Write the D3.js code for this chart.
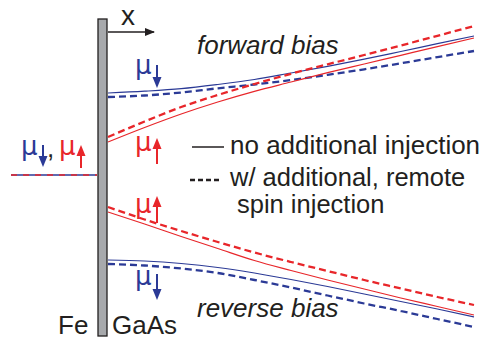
<!DOCTYPE html>
<html>
<head>
<meta charset="utf-8">
<script src="https://cdn.jsdelivr.net/npm/d3@7"></script>
<style>
  html, body { margin: 0; padding: 0; background: #fff; }
  svg { display: block; font-family: "Liberation Sans", Arial, Helvetica, sans-serif; }
</style>
</head>
<body>
<svg id="chart" width="489" height="339"></svg>
<script>
// position into GaAs (arb. units), 0 = Fe/GaAs interface
const xs = [0, 1, 2, 3, 4, 5, 6, 7, 8, 9, 10];
// electrochemical potentials (arb. units), 0 = Fe level
const fwdDownSolid  = [82, 83.8, 86.3, 90.5, 95.5, 102, 108.7, 115.8, 123.5, 131.3, 139];
const fwdDownDashed = [78, 79.5, 82.5, 86.7, 90.5, 95, 100.2, 105.7, 111.7, 117.9, 124];
const fwdUpDashed   = [38, 53.5, 68, 80, 91, 101.2, 110.7, 120, 129.5, 139.2, 149];
const fwdUpSolid    = [33, 47.5, 61, 73, 83.7, 93, 102.3, 111, 119.7, 128.4, 137];
const revUpDashed   = [-32, -44.5, -56, -67, -77.5, -87, -96, -105, -113.5, -122, -130];
const revUpSolid    = [-37, -49, -61.5, -73.5, -85.5, -95.5, -105, -114, -123, -131.5, -140];
const revDownSolid  = [-85, -86, -88.5, -92.5, -98, -104.5, -111.5, -119, -126.5, -134, -142];
const revDownDashed = [-89, -90.5, -93.5, -98, -105, -112.5, -120.5, -128.5, -136, -144, -152];
// Fe side: both spins at the same level
const feX = [-2.65, -0.3];
const feLevel = [0, 0];

const RED = "#e8262a", BLUE = "#2b3a96", INK = "#231f20";

const svg = d3.select("#chart");
const x = d3.scaleLinear().domain([0, 10]).range([108, 474]);
const y = d3.scaleLinear().domain([-150, 150]).range([325, 25]);

const line = d3.line()
  .x(d => x(d[0]))
  .y(d => y(d[1]))
  .curve(d3.curveMonotoneX);

function curve(vals, color, dashed) {
  svg.append("path")
    .attr("d", line(xs.map((v, i) => [v, vals[i]])))
    .attr("fill", "none")
    .attr("stroke", color)
    .attr("stroke-width", dashed ? 2.3 : 1.2)
    .attr("stroke-dasharray", dashed ? "7,4" : null);
}

// Fe / GaAs interface
svg.append("rect")
  .attr("x", 98).attr("y", 19)
  .attr("width", 9).attr("height", 317)
  .attr("fill", "#a7a9ac")
  .attr("stroke", INK)
  .attr("stroke-width", 1.3);

// x direction arrow
svg.append("defs").append("marker")
  .attr("id", "head")
  .attr("viewBox", "0 0 10 10")
  .attr("refX", 9).attr("refY", 5)
  .attr("markerWidth", 10).attr("markerHeight", 10)
  .attr("markerUnits", "userSpaceOnUse")
  .attr("orient", "auto")
  .append("path").attr("d", "M0,1 L10,5 L0,9 Z").attr("fill", INK);
svg.append("line")
  .attr("x1", x(0)).attr("y1", 32).attr("x2", 154).attr("y2", 32)
  .attr("stroke", INK).attr("stroke-width", 1.3)
  .attr("marker-end", "url(#head)");
svg.append("text").attr("x", 121).attr("y", 25)
  .attr("font-size", 28).attr("fill", INK).text("x");

// Fe level, alternating red/blue
const feLine = d3.line().x(d => x(d[0])).y(d => y(d[1]))(feX.map((v, i) => [v, feLevel[i]]));
svg.append("path").attr("d", feLine).attr("stroke", BLUE).attr("stroke-width", 1.5).attr("fill", "none");
svg.append("path").attr("d", feLine).attr("stroke", RED).attr("stroke-width", 1.5).attr("fill", "none")
  .attr("stroke-dasharray", "6,6");

// forward bias curves
curve(fwdDownSolid, BLUE, false);
curve(fwdDownDashed, BLUE, true);
curve(fwdUpSolid, RED, false);
curve(fwdUpDashed, RED, true);
// reverse bias curves
curve(revUpSolid, RED, false);
curve(revUpDashed, RED, true);
curve(revDownSolid, BLUE, false);
curve(revDownDashed, BLUE, true);

// spin arrows: dir = 1 for down, -1 for up
function spinArrow(cx, yTop, yBot, dir, color) {
  const g = svg.append("g").attr("fill", color).attr("stroke", color);
  const headLen = 11, hw = 4.5;
  if (dir > 0) {
    g.append("line").attr("x1", cx).attr("x2", cx).attr("y1", yTop).attr("y2", yBot - headLen + 1).attr("stroke-width", 2);
    g.append("path").attr("stroke", "none")
      .attr("d", `M${cx - hw},${yBot - headLen} L${cx + hw},${yBot - headLen} L${cx},${yBot} Z`);
  } else {
    g.append("line").attr("x1", cx).attr("x2", cx).attr("y1", yTop + headLen - 1).attr("y2", yBot).attr("stroke-width", 2);
    g.append("path").attr("stroke", "none")
      .attr("d", `M${cx - hw},${yTop + headLen} L${cx + hw},${yTop + headLen} L${cx},${yTop} Z`);
  }
}

function mu(px, py, color) {
  svg.append("text").attr("x", px).attr("y", py)
    .attr("font-family", "'DejaVu Sans', sans-serif")
    .attr("font-size", 26).attr("fill", color).text("μ");
}

mu(135, 74, BLUE);  spinArrow(157, 65, 88, 1, BLUE);
mu(135, 151, RED);  spinArrow(157, 138, 164, -1, RED);
mu(135, 213, RED);  spinArrow(157, 196, 223, -1, RED);
mu(135, 285, BLUE); spinArrow(157, 274, 300, 1, BLUE);

mu(21, 155, BLUE);  spinArrow(43, 145, 167, 1, BLUE);
svg.append("text").attr("x", 47).attr("y", 157).attr("font-size", 26).attr("fill", INK).text(",");
mu(59, 155, RED);   spinArrow(81, 145, 168, -1, RED);

// bias labels
svg.append("text").attr("x", 197).attr("y", 54)
  .attr("font-size", 26).attr("font-style", "italic").attr("fill", INK).text("forward bias");
svg.append("text").attr("x", 197).attr("y", 317)
  .attr("font-size", 26).attr("font-style", "italic").attr("fill", INK).text("reverse bias");

// legend
svg.append("line").attr("x1", 192).attr("x2", 224).attr("y1", 147).attr("y2", 147)
  .attr("stroke", INK).attr("stroke-width", 1.5);
svg.append("line").attr("x1", 190).attr("x2", 222).attr("y1", 180).attr("y2", 180)
  .attr("stroke", INK).attr("stroke-width", 2.5).attr("stroke-dasharray", "5,3");
svg.append("text").attr("x", 230).attr("y", 154).attr("font-size", 26).attr("fill", INK)
  .text("no additional injection");
svg.append("text").attr("x", 230).attr("y", 186).attr("font-size", 25.5).attr("fill", INK)
  .text("w/ additional, remote");
svg.append("text").attr("x", 237).attr("y", 213).attr("font-size", 25.5).attr("fill", INK)
  .text("spin injection");

// materials
svg.append("text").attr("x", 58).attr("y", 334).attr("font-size", 26).attr("fill", INK).text("Fe");
svg.append("text").attr("x", 112).attr("y", 334).attr("font-size", 26).attr("fill", INK).text("GaAs");
</script>
</body>
</html>
